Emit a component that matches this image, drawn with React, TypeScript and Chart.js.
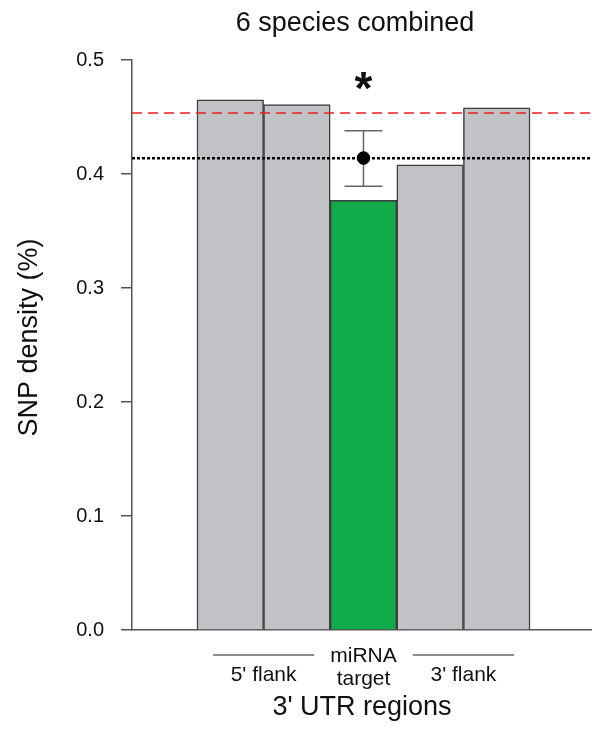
import React, { useEffect, useRef } from "react";
import { Chart, registerables } from "chart.js";

Chart.register(...registerables);

// ---- data ----
const barSegments = ["5' flank (outer)", "5' flank (inner)", "miRNA target", "3' flank (inner)", "3' flank (outer)"];
const snpDensity = [0.465, 0.461, 0.377, 0.408, 0.458];
const barColors = ["#c0c2c5", "#c0c2c5", "#12ab4a", "#c0c2c5", "#c0c2c5"];
const groupLabels = [["5' flank"], ["miRNA", "target"], ["3' flank"]];
const groupFirstBar = [0, 2, 3];
const groupLastBar = [1, 2, 4];
const groupHasRule = [true, false, true];
const flankMean = [0.4534];
const overallMean = [0.4139];
const targetPoint = [0.414];
const targetErrLow = [0.3893];
const targetErrHigh = [0.4379];
const yTickValues = [0, 0.1, 0.2, 0.3, 0.4, 0.5];
const chartTitle = "6 species combined";
const yTitle = "SNP density (%)";
const xTitle = "3' UTR regions";
const significance = "*";
const significanceY = [0.482];

// axis range (in bar-slot units)
const X_MIN = 0.025;
const X_MAX = 6.93;
const barX = (i: number) => i + 1.5;

const FONT = '"Liberation Sans", Arial, Helvetica, sans-serif';
const TARGET_INDEX = 2;

const annotationPlugin = {
  id: "annotations",
  beforeDatasetsDraw(chart: any) {
    const { ctx } = chart;
    const xs = chart.scales.x;
    const ys = chart.scales.y;
    const cx = xs.getPixelForValue(barX(TARGET_INDEX));
    const yTop = ys.getPixelForValue(targetErrHigh[0]);
    const yBot = ys.getPixelForValue(targetErrLow[0]);
    ctx.save();
    ctx.strokeStyle = "#666";
    ctx.lineWidth = 1.5;
    ctx.beginPath();
    ctx.moveTo(cx, yTop);
    ctx.lineTo(cx, yBot);
    ctx.moveTo(cx - 19, yTop);
    ctx.lineTo(cx + 19, yTop);
    ctx.moveTo(cx - 19, yBot);
    ctx.lineTo(cx + 19, yBot);
    ctx.stroke();
    ctx.restore();
  },
  afterDraw(chart: any) {
    const { ctx, chartArea } = chart;
    const xs = chart.scales.x;
    const ys = chart.scales.y;
    const unit = xs.getPixelForValue(1) - xs.getPixelForValue(0);
    const bottom = chartArea.bottom;
    ctx.save();
    ctx.fillStyle = "#111";
    ctx.textAlign = "center";
    ctx.textBaseline = "alphabetic";

    // chart title
    ctx.font = `27px ${FONT}`;
    ctx.fillText(chartTitle, 355, 31);

    // significance star
    const cx = xs.getPixelForValue(barX(TARGET_INDEX));
    ctx.font = `bold 46px ${FONT}`;
    const m = ctx.measureText(significance);
    const sy = ys.getPixelForValue(significanceY[0]);
    ctx.fillText(significance, cx, sy + (m.actualBoundingBoxAscent - m.actualBoundingBoxDescent) / 2);

    // group labels under the axis
    ctx.font = `21px ${FONT}`;
    for (let g = 0; g < groupLabels.length; g++) {
      const left = xs.getPixelForValue(barX(groupFirstBar[g])) - unit / 2;
      const right = xs.getPixelForValue(barX(groupLastBar[g])) + unit / 2;
      const mid = (left + right) / 2;
      const lines = groupLabels[g];
      if (groupHasRule[g]) {
        ctx.save();
        ctx.strokeStyle = "#666";
        ctx.lineWidth = 1.5;
        ctx.beginPath();
        ctx.moveTo(left + 16, bottom + 25);
        ctx.lineTo(right - 16, bottom + 25);
        ctx.stroke();
        ctx.restore();
      }
      if (lines.length === 1) {
        ctx.fillText(lines[0], mid, bottom + 51);
      } else {
        ctx.fillText(lines[0], mid, bottom + 32);
        ctx.fillText(lines[1], mid, bottom + 55);
      }
    }

    // x axis title
    ctx.font = `27px ${FONT}`;
    ctx.fillText(xTitle, (chartArea.left + chartArea.right) / 2, bottom + 85);

    // y axis title
    ctx.save();
    ctx.translate(37, 337.5);
    ctx.rotate(-Math.PI / 2);
    ctx.fillText(yTitle, 0, 0);
    ctx.restore();

    ctx.restore();
  },
};

export default function App() {
  const canvasRef = useRef<HTMLCanvasElement | null>(null);

  useEffect(() => {
    if (!canvasRef.current) return;
    const chart = new Chart(canvasRef.current, {
      type: "bar",
      data: {
        datasets: [
          {
            type: "scatter" as any,
            label: "miRNA target mean",
            data: targetPoint.map((v) => ({ x: barX(TARGET_INDEX), y: v })),
            pointRadius: 6.3,
            pointBackgroundColor: "#000",
            pointBorderColor: "#000",
            order: 0,
          } as any,
          {
            type: "line" as any,
            label: "flank mean",
            data: flankMean.flatMap((v) => [
              { x: X_MIN, y: v },
              { x: X_MAX, y: v },
            ]),
            borderColor: "#e3231c",
            borderWidth: 1.5,
            borderDash: [10, 6],
            pointRadius: 0,
            fill: false,
            order: 1,
          } as any,
          {
            type: "line" as any,
            label: "overall mean",
            data: overallMean.flatMap((v) => [
              { x: X_MIN, y: v },
              { x: X_MAX, y: v },
            ]),
            borderColor: "#000",
            borderWidth: 2.5,
            borderDash: [3, 2],
            pointRadius: 0,
            fill: false,
            order: 1,
          } as any,
          {
            type: "bar",
            label: "SNP density",
            data: snpDensity.map((v, i) => ({ x: barX(i), y: v })) as any,
            backgroundColor: barColors,
            borderColor: "#3d3d3d",
            borderWidth: 1.5,
            borderSkipped: "bottom",
            barPercentage: 1,
            categoryPercentage: 1,
            order: 3,
          } as any,
        ],
      },
      options: {
        animation: false,
        responsive: false,
        layout: { autoPadding: false, padding: { top: 60, left: 0, right: 0, bottom: 0 } },
        plugins: {
          legend: { display: false },
          title: { display: false },
          tooltip: { enabled: false },
        },
        scales: {
          x: {
            type: "linear",
            min: X_MIN,
            max: X_MAX,
            offset: false,
            grid: { display: false },
            border: { display: true, color: "#555", width: 1.5 },
            ticks: { display: false, stepSize: 100 },
            afterFit: (s: any) => {
              s.height = 102;
            },
          },
          y: {
            type: "linear",
            min: 0,
            max: 0.5,
            afterBuildTicks: (s: any) => {
              s.ticks = yTickValues.map((v) => ({ value: v }));
            },
            grid: {
              display: true,
              drawOnChartArea: false,
              drawTicks: true,
              tickLength: 11,
              tickColor: "#555",
              lineWidth: 1.5,
            },
            border: { display: true, color: "#555", width: 1.5 },
            ticks: {
              padding: 17,
              color: "#111",
              font: { family: FONT, size: 20 },
              callback: (v: any) => Number(v).toFixed(1),
            },
            afterFit: (s: any) => {
              s.width = 132;
            },
          },
        },
      } as any,
      plugins: [annotationPlugin],
    });
    return () => chart.destroy();
  }, []);

  return (
    <div style={{ position: "absolute", left: 0, top: 0, width: 592, height: 732, background: "#fff" }}>
      <canvas ref={canvasRef} width={592} height={732} style={{ width: 592, height: 732, display: "block" }} />
    </div>
  );
}
